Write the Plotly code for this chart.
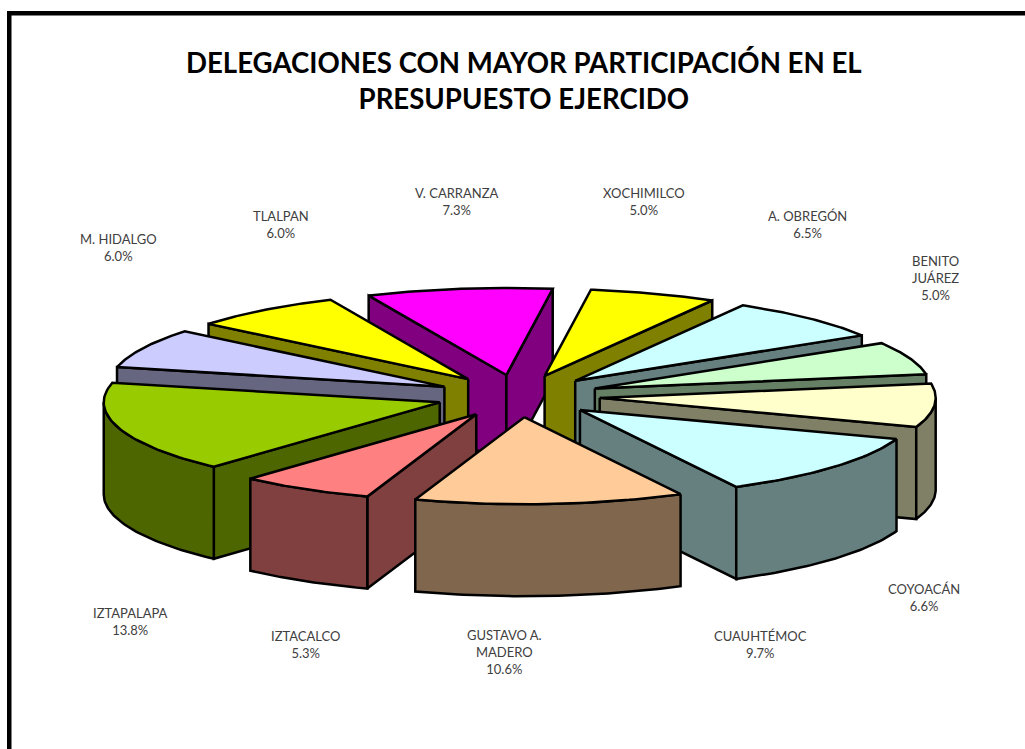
import numpy as np
import plotly.graph_objects as go

# Data, clockwise from the chart's rotation angle
categories = ["V. CARRANZA", "XOCHIMILCO", "A. OBREGÓN", "BENITO JUÁREZ", "COYOACÁN", "CUAUHTÉMOC",
              "GUSTAVO A. MADERO", "IZTACALCO", "IZTAPALAPA", "M. HIDALGO", "TLALPAN"]
values = [7.3, 5.0, 6.5, 5.0, 6.6, 9.7, 10.6, 5.3, 13.8, 6.0, 6.0]
label_lines = ["V. CARRANZA", "XOCHIMILCO", "A. OBREGÓN", "BENITO<br>JUÁREZ", "COYOACÁN", "CUAUHTÉMOC",
               "GUSTAVO A.<br>MADERO", "IZTACALCO", "IZTAPALAPA", "M. HIDALGO", "TLALPAN"]
title_text = "<b>DELEGACIONES CON MAYOR PARTICIPACIÓN EN EL<br>PRESUPUESTO EJERCIDO</b>"

# Styles
top_colors = ["#FF00FF", "#FFFF00", "#CCFFFF", "#CCFFCC", "#FFFFCC", "#CCFFFF",
              "#FFCC99", "#FF8080", "#99CC00", "#CCCCFF", "#FFFF00"]
side_colors = ["#800080", "#808000", "#668080", "#668066", "#808066", "#668080",
               "#80664D", "#804040", "#4D6600", "#666680", "#808000"]
label_x = [457, 644, 807, 935, 924, 760, 504, 305, 130, 118, 281]
label_y = [201, 201, 224, 278, 597, 644, 652, 644, 621, 247, 224]

# Projection of the exploded pie into the plot's pixel-like axis space
CX, CY, RADIUS, TILT, EXPLODE, DEPTH, START = 518, 396, 336, 0.259, 82, 92, -24.2


def project(a_deg, r):
    a = np.radians(a_deg)
    return r * np.sin(a), -TILT * r * np.cos(a)


def add_poly(fig, xs, ys, color, name):
    fig.add_trace(go.Scatter(
        x=list(xs) + [xs[0]], y=list(ys) + [ys[0]], mode="lines", fill="toself",
        fillcolor=color, line=dict(color="black", width=2.5), hoverinfo="text", text=name,
        showlegend=False))


fig = go.Figure()
shares = np.array(values) / sum(values) * 360
edges = START + np.concatenate([[0], np.cumsum(shares)])
mids = (edges[:-1] + edges[1:]) / 2

for i in np.argsort(-np.cos(np.radians(mids))):
    a0, a1, mid = edges[i], edges[i + 1], mids[i]
    name = f"{categories[i]}: {values[i]:.1f}%"
    ex, ey = project(mid, EXPLODE)
    ox, oy = CX + ex, CY + ey
    # radial walls that face the viewer
    for a, visible in ((a0, np.sin(np.radians(a0)) < 0), (a1, np.sin(np.radians(a1)) > 0)):
        if visible:
            px, py = project(a, RADIUS)
            add_poly(fig, [ox, ox + px, ox + px, ox], [oy, oy + py, oy + py + DEPTH, oy + DEPTH],
                     side_colors[i], name)
    # outer curved wall, front half only
    lo, hi = max(a0, 90), min(a1, 270)
    if lo < hi:
        th = np.linspace(lo, hi, 50)
        px, py = project(th, RADIUS)
        add_poly(fig, np.r_[ox + px, (ox + px)[::-1]], np.r_[oy + py, (oy + py + DEPTH)[::-1]],
                 side_colors[i], name)
    # top face
    th = np.linspace(a0, a1, 50)
    px, py = project(th, RADIUS)
    add_poly(fig, np.r_[ox, ox + px], np.r_[oy, oy + py], top_colors[i], name)

annotations = [dict(x=x, y=y, text=f"{t}<br>{v:.1f}%", showarrow=False, xanchor="center", yanchor="middle",
                    font=dict(family="Lato, Open Sans, sans-serif", size=13, color="#404040"), align="center")
               for x, y, t, v in zip(label_x, label_y, label_lines, values)]
annotations.append(dict(x=524, y=80, text=title_text, showarrow=False, xanchor="center", yanchor="middle",
                        align="center", font=dict(family="Lato, Open Sans, sans-serif", size=27.6, color="black")))

fig.update_layout(
    width=1025, height=749, margin=dict(l=0, r=0, t=0, b=0),
    paper_bgcolor="white", plot_bgcolor="white", showlegend=False,
    xaxis=dict(range=[0, 1025], visible=False, fixedrange=True),
    yaxis=dict(range=[749, 0], visible=False, fixedrange=True),
    annotations=annotations,
    shapes=[
        dict(type="rect", x0=7, x1=11.5, y0=11, y1=749, fillcolor="black", line_width=0, layer="above"),
        dict(type="rect", x0=7, x1=1025, y0=11, y1=15.5, fillcolor="black", line_width=0, layer="above"),
    ],
)

fig.write_html("out.html", config=dict(displayModeBar=False),
               post_script="document.body.style.margin='0';document.body.style.overflow='hidden';")
